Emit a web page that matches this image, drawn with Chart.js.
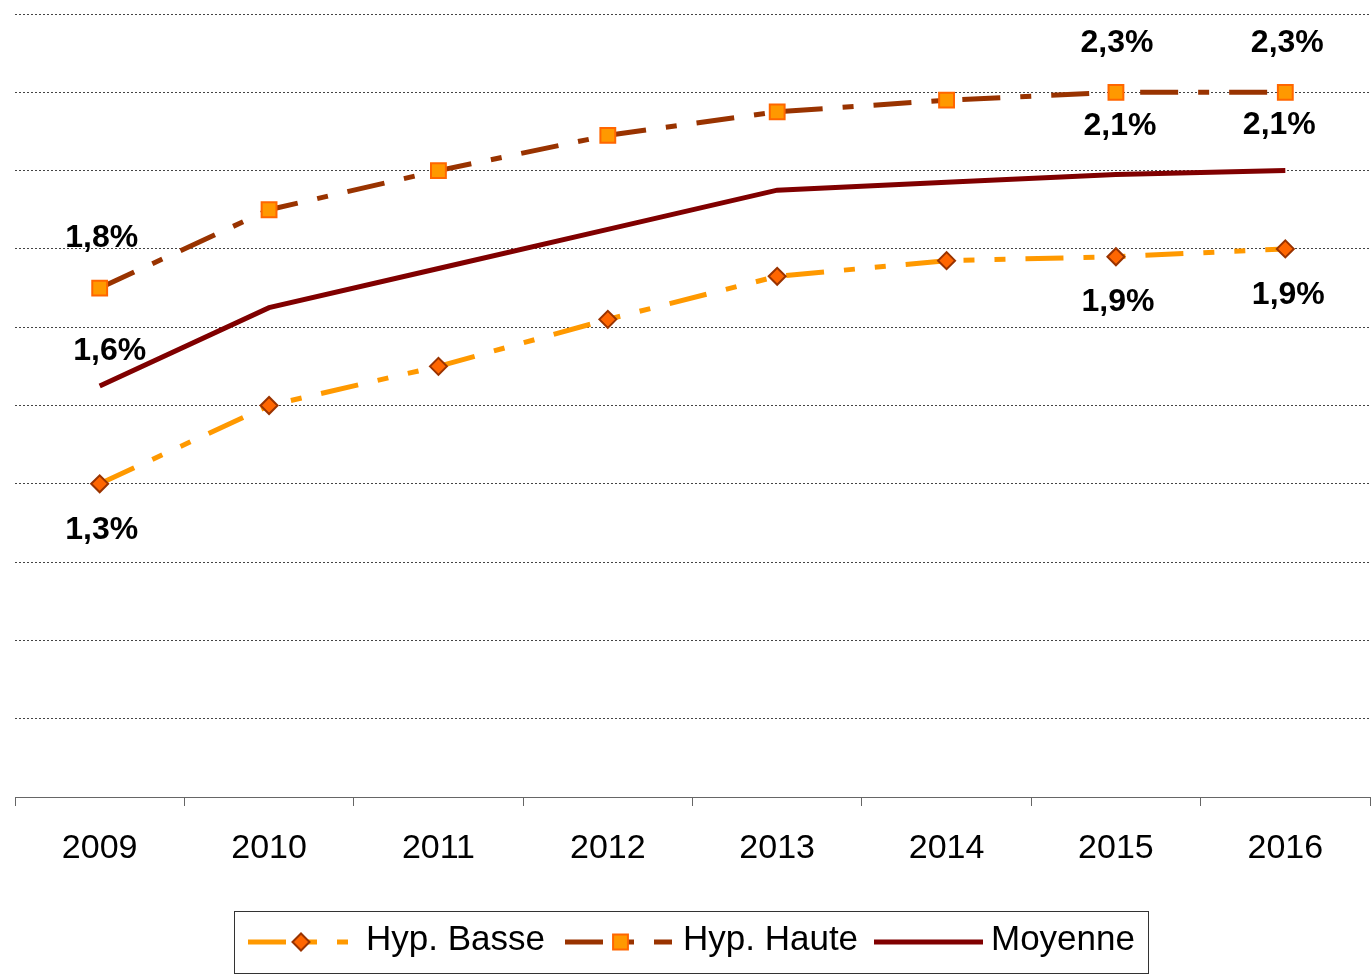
<!DOCTYPE html>
<html>
<head>
<meta charset="utf-8">
<script src="https://cdn.jsdelivr.net/npm/chart.js@4"></script>
<style>
    html, body { margin: 0; padding: 0; background: #fff; overflow: hidden; }
    #wrap { width: 1371px; height: 976px; }
    #chart { display: block; }
</style>
</head>
<body>
<div id="wrap"><canvas id="chart" width="1371" height="976"></canvas></div>
<script>
// Data
const years = ['2009', '2010', '2011', '2012', '2013', '2014', '2015', '2016'];
const hypBasse = [1.30, 1.50, 1.60, 1.72, 1.83, 1.87, 1.88, 1.90];
const hypHaute = [1.80, 2.00, 2.10, 2.19, 2.25, 2.28, 2.30, 2.30];
const moyenne = [1.55, 1.75, 1.85, 1.95, 2.05, 2.07, 2.09, 2.10];
const basseLabels = ['1,3%', null, null, null, null, null, '1,9%', '1,9%'];
const hauteLabels = ['1,8%', null, null, null, null, null, '2,3%', '2,3%'];
const moyenneLabels = ['1,6%', null, null, null, null, null, '2,1%', '2,1%'];

const FONT = "'Liberation Sans', Arial, sans-serif";

const dashBasse = [38, 20, 11, 20, 11, 20];
const dashHaute = [38, 20, 11, 20];

// value labels next to the points
const valueLabels = {
    id: 'valueLabels',
    afterDatasetsDraw(chart) {
        const ctx = chart.ctx;
        const sets = [
            { idx: 0, texts: basseLabels, off: [[2, 46], [2, 45], [3, 46]] },
            { idx: 1, texts: hauteLabels, off: [[2, -50], [1, -49], [2, -49]] },
            { idx: 2, texts: moyenneLabels, off: [[10, -35], [4, -48], [-6, -45]] }
        ];
        ctx.save();
        ctx.font = 'bold 32px ' + FONT;
        ctx.fillStyle = '#000';
        ctx.textAlign = 'center';
        ctx.textBaseline = 'middle';
        sets.forEach(s => {
            const meta = chart.getDatasetMeta(s.idx);
            let k = 0;
            s.texts.forEach((t, i) => {
                if (!t) return;
                const p = meta.data[i];
                const o = s.off[k++];
                ctx.fillText(t, p.x + o[0], p.y + o[1]);
            });
        });
        ctx.restore();
    }
};

// legend drawn in the canvas, boxed below the axis
const boxLegend = {
    id: 'boxLegend',
    afterDraw(chart) {
        const ctx = chart.ctx;
        ctx.save();
        ctx.strokeStyle = '#333';
        ctx.lineWidth = 1;
        ctx.strokeRect(234.5, 911.5, 914, 62);
        const y = 942;
        const items = [
            { x0: 248, x1: 350, tx: 366, ds: chart.data.datasets[0], dash: dashBasse },
            { x0: 565, x1: 672, tx: 683, ds: chart.data.datasets[1], dash: dashHaute },
            { x0: 874, x1: 983, tx: 991, ds: chart.data.datasets[2], dash: [] }
        ];
        items.forEach(it => {
            ctx.save();
            ctx.strokeStyle = it.ds.borderColor;
            ctx.lineWidth = it.ds.borderWidth;
            ctx.setLineDash(it.dash);
            ctx.beginPath();
            ctx.moveTo(it.x0, y);
            ctx.lineTo(it.x1, y);
            ctx.stroke();
            ctx.restore();
            if (it.ds.pointRadius > 0) {
                ctx.save();
                ctx.fillStyle = it.ds.pointBackgroundColor;
                ctx.strokeStyle = it.ds.pointBorderColor;
                ctx.lineWidth = it.ds.pointBorderWidth;
                Chart.helpers.drawPoint(ctx, {
                    pointStyle: it.ds.pointStyle,
                    rotation: 0,
                    radius: it.ds.pointRadius,
                    borderWidth: it.ds.pointBorderWidth
                }, (it.x0 + it.x1) / 2 + 2, y);
                ctx.restore();
            }
            ctx.font = '35px ' + FONT;
            ctx.fillStyle = '#000';
            ctx.textAlign = 'left';
            ctx.textBaseline = 'middle';
            ctx.fillText(it.ds.label, it.tx, y - 2);
        });
        ctx.restore();
    }
};

const ctx = document.getElementById('chart').getContext('2d');
const chart = new Chart(ctx, {
    type: 'line',
    data: {
        labels: years,
        datasets: [
            {
                label: 'Hyp. Basse',
                data: hypBasse,
                borderColor: '#FF9900',
                borderWidth: 5,
                borderDash: dashBasse,
                pointStyle: 'rectRot',
                pointRadius: 8.5,
                pointBackgroundColor: '#FF6600',
                pointBorderColor: '#993300',
                pointBorderWidth: 2,
                tension: 0
            },
            {
                label: 'Hyp. Haute',
                data: hypHaute,
                borderColor: '#993300',
                borderWidth: 5,
                borderDash: dashHaute,
                pointStyle: 'rect',
                pointRadius: 10.5,
                pointBackgroundColor: '#FF9900',
                pointBorderColor: '#FF6600',
                pointBorderWidth: 2,
                tension: 0
            },
            {
                label: 'Moyenne',
                data: moyenne,
                borderColor: '#800000',
                borderWidth: 5,
                pointRadius: 0,
                tension: 0
            }
        ]
    },
    options: {
        responsive: false,
        animation: false,
        layout: { autoPadding: false, padding: { left: 15, right: 1, top: 14, bottom: 99 } },
        plugins: {
            legend: { display: false },
            tooltip: { enabled: false }
        },
        scales: {
            x: {
                offset: true,
                grid: {
                    offset: true,
                    drawOnChartArea: false,
                    drawTicks: true,
                    tickLength: 9,
                    color: '#666'
                },
                border: { display: true, color: '#666', width: 1 },
                ticks: {
                    color: '#000',
                    padding: 22,
                    font: { family: FONT, size: 34 }
                },
                afterFit(scale) { scale.height = 80; }
            },
            y: {
                min: 0.5,
                max: 2.5,
                ticks: { display: false, stepSize: 0.2 },
                grid: { color: '#444', lineWidth: 1, drawTicks: false },
                border: { display: false, dash: [2, 2] }
            }
        }
    },
    plugins: [valueLabels, boxLegend]
});
</script>
</body>
</html>
